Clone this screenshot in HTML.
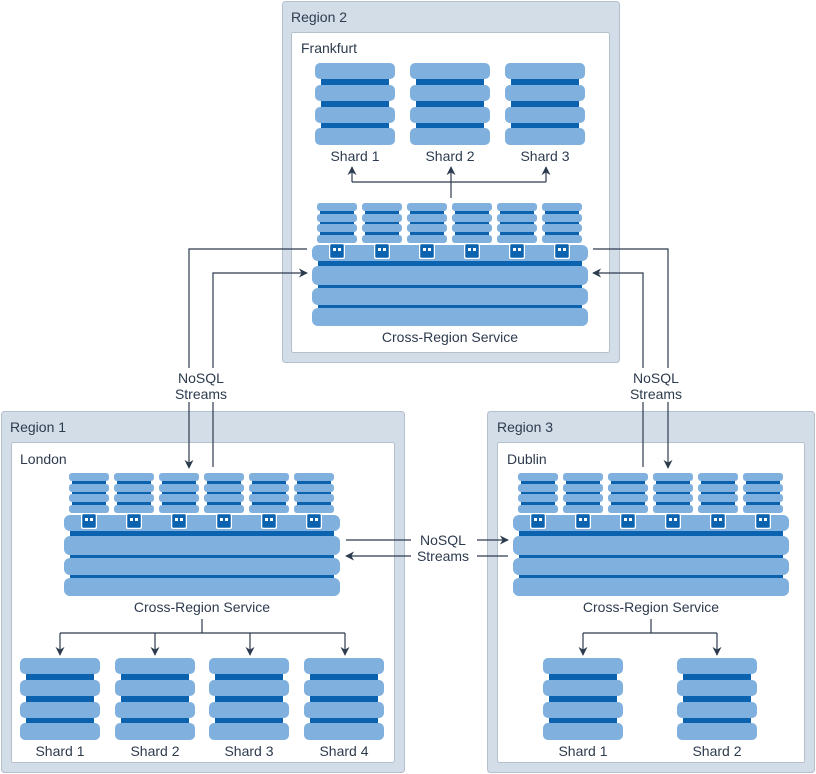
<!DOCTYPE html>
<html><head><meta charset="utf-8"><style>
html,body{margin:0;padding:0;background:#fff;}
svg{display:block;}
text{font-family:"Liberation Sans","DejaVu Sans",sans-serif;font-size:14px;fill:#2d3b4e;}
</style></head><body>
<svg width="816" height="774" viewBox="0 0 816 774" xmlns="http://www.w3.org/2000/svg">
<defs>
<symbol id="shard" viewBox="0 0 80 82" width="80" height="82">
 <rect x="6" y="10" width="68" height="62" fill="#0b63b0"/>
 <rect x="0" y="0" width="80" height="16" rx="5" fill="#80b0de"/>
 <rect x="0" y="22" width="80" height="16" rx="5" fill="#80b0de"/>
 <rect x="0" y="44" width="80" height="16" rx="5" fill="#80b0de"/>
 <rect x="0" y="65" width="80" height="17" rx="5" fill="#80b0de"/>
</symbol>
<symbol id="small" viewBox="0 0 40 40" width="40" height="40">
 <rect x="3" y="4" width="34" height="32" fill="#0b63b0"/>
 <rect x="0" y="0" width="40" height="8" rx="3" fill="#80b0de"/>
 <rect x="0" y="11" width="40" height="8" rx="3" fill="#80b0de"/>
 <rect x="0" y="21" width="40" height="8" rx="3" fill="#80b0de"/>
 <rect x="0" y="32" width="40" height="8" rx="3" fill="#80b0de"/>
</symbol>
<symbol id="icon" viewBox="0 0 16 16" width="16" height="16">
 <rect x="0.5" y="0.5" width="15" height="15" rx="2" fill="#0b63b0" stroke="#fff" stroke-width="1.5"/>
 <rect x="4" y="5" width="3" height="3" fill="#fff"/>
 <rect x="9" y="5" width="3" height="3" fill="#fff"/>
</symbol>
<symbol id="cross" viewBox="0 0 276 123" width="276" height="123">
 <use href="#small" x="5" y="0"/><use href="#small" x="50" y="0"/><use href="#small" x="95" y="0"/>
 <use href="#small" x="140" y="0"/><use href="#small" x="185" y="0"/><use href="#small" x="230" y="0"/>
 <rect x="6" y="50" width="264" height="66" fill="#0b63b0"/>
 <rect x="0" y="42" width="276" height="16" rx="6" fill="#80b0de"/>
 <rect x="0" y="63" width="276" height="19" rx="6" fill="#80b0de"/>
 <rect x="0" y="85" width="276" height="17" rx="6" fill="#80b0de"/>
 <rect x="0" y="105" width="276" height="18" rx="6" fill="#80b0de"/>
 <use href="#icon" x="17" y="40"/><use href="#icon" x="62" y="40"/><use href="#icon" x="107" y="40"/>
 <use href="#icon" x="152" y="40"/><use href="#icon" x="197" y="40"/><use href="#icon" x="242" y="40"/>
</symbol>
<marker id="ah" viewBox="0 0 10 10" refX="9" refY="5" markerWidth="9" markerHeight="9" markerUnits="userSpaceOnUse" orient="auto">
 <path d="M0,0 L10,5 L0,10 L3,5 z" fill="#2d3b4e"/>
</marker>
</defs>

<rect x="282.5" y="1.5" width="337" height="361" rx="3" fill="#d3dde8" stroke="#b3c0ce"/>
<rect x="291.5" y="32.5" width="318" height="320" rx="2" fill="#fff" stroke="#b3c0ce"/>
<text x="291" y="22">Region 2</text><text x="301" y="53">Frankfurt</text>

<rect x="1.5" y="411.5" width="403" height="361" rx="3" fill="#d3dde8" stroke="#b3c0ce"/>
<rect x="11.5" y="442.5" width="383" height="320" rx="2" fill="#fff" stroke="#b3c0ce"/>
<text x="10" y="432">Region 1</text><text x="20" y="464">London</text>

<rect x="487.5" y="411.5" width="327" height="361" rx="3" fill="#d3dde8" stroke="#b3c0ce"/>
<rect x="497.5" y="442.5" width="307" height="320" rx="2" fill="#fff" stroke="#b3c0ce"/>
<text x="497" y="432">Region 3</text><text x="507" y="464">Dublin</text>

<use href="#shard" x="315" y="63"/><use href="#shard" x="410" y="63"/><use href="#shard" x="505" y="63"/>
<text x="355" y="161" text-anchor="middle">Shard 1</text>
<text x="450" y="161" text-anchor="middle">Shard 2</text>
<text x="545" y="161" text-anchor="middle">Shard 3</text>
<use href="#cross" x="312" y="203"/>
<text x="450" y="342" text-anchor="middle">Cross-Region Service</text>
<g stroke="#2d3b4e" stroke-width="1.2" fill="none">
 <path d="M451 198 V182 M352 182 H546"/>
 <path d="M352 182 V167" marker-end="url(#ah)"/>
 <path d="M451 182 V167" marker-end="url(#ah)"/>
 <path d="M546 182 V167" marker-end="url(#ah)"/>
</g>

<use href="#cross" x="64" y="473"/>
<text x="202" y="612" text-anchor="middle">Cross-Region Service</text>
<use href="#shard" x="20" y="658"/><use href="#shard" x="115" y="658"/><use href="#shard" x="209" y="658"/><use href="#shard" x="304" y="658"/>
<text x="60" y="756" text-anchor="middle">Shard 1</text>
<text x="155" y="756" text-anchor="middle">Shard 2</text>
<text x="249" y="756" text-anchor="middle">Shard 3</text>
<text x="344" y="756" text-anchor="middle">Shard 4</text>
<g stroke="#2d3b4e" stroke-width="1.2" fill="none">
 <path d="M202 619 V633 M60 633 H345"/>
 <path d="M60 633 V655" marker-end="url(#ah)"/>
 <path d="M155 633 V655" marker-end="url(#ah)"/>
 <path d="M250 633 V655" marker-end="url(#ah)"/>
 <path d="M345 633 V655" marker-end="url(#ah)"/>
</g>

<use href="#cross" x="513" y="473"/>
<text x="651" y="612" text-anchor="middle">Cross-Region Service</text>
<use href="#shard" x="543" y="658"/><use href="#shard" x="677" y="658"/>
<text x="583" y="756" text-anchor="middle">Shard 1</text>
<text x="717" y="756" text-anchor="middle">Shard 2</text>
<g stroke="#2d3b4e" stroke-width="1.2" fill="none">
 <path d="M651 619 V633 M583 633 H717"/>
 <path d="M583 633 V655" marker-end="url(#ah)"/>
 <path d="M717 633 V655" marker-end="url(#ah)"/>
</g>

<g stroke="#2d3b4e" stroke-width="1.2" fill="none">
 <path d="M307 249 H189 V468" marker-end="url(#ah)"/>
 <path d="M213 467 V273 H307" marker-end="url(#ah)"/>
 <path d="M593 249 H668 V468" marker-end="url(#ah)"/>
 <path d="M643 467 V273 H593" marker-end="url(#ah)"/>
 <path d="M346 540 H508" marker-end="url(#ah)"/>
 <path d="M508 556 H346" marker-end="url(#ah)"/>
</g>
<rect x="166" y="368" width="70" height="34" fill="#fff"/>
<text x="201" y="383" text-anchor="middle">NoSQL</text>
<text x="201" y="399" text-anchor="middle">Streams</text>
<rect x="621" y="368" width="70" height="34" fill="#fff"/>
<text x="656" y="383" text-anchor="middle">NoSQL</text>
<text x="656" y="399" text-anchor="middle">Streams</text>
<rect x="411" y="530" width="66" height="34" fill="#fff"/>
<text x="443" y="545" text-anchor="middle">NoSQL</text>
<text x="443" y="561" text-anchor="middle">Streams</text>
</svg>
</body></html>
